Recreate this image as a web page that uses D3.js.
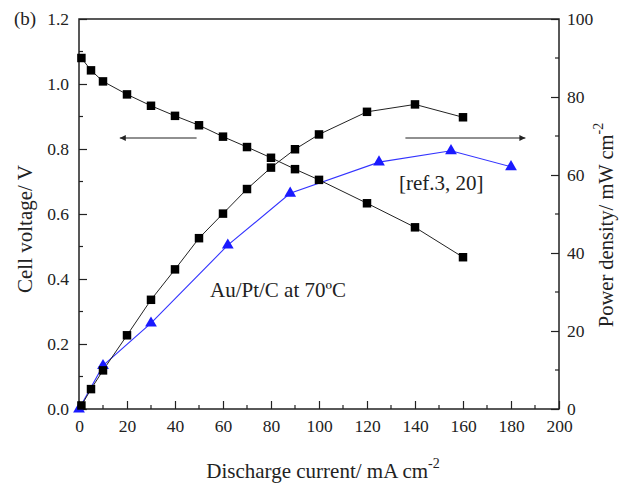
<!DOCTYPE html>
<html>
<head>
<meta charset="utf-8">
<script src="https://cdn.jsdelivr.net/npm/d3@7"></script>
<style>
  body { margin: 0; background: #fff; }
</style>
</head>
<body>
<svg id="chart" width="620" height="485"></svg>
<script>
// current density (mA cm-2)
var currentSq = [1, 5, 10, 20, 30, 40, 50, 60, 70, 80, 90, 100, 120, 140, 160]
var voltage = [1.08, 1.042, 1.008, 0.968, 0.933, 0.902, 0.873, 0.838, 0.806, 0.773, 0.738, 0.705, 0.633, 0.559, 0.467]
var currentPw = [1, 5, 10, 20, 30, 40, 50, 60, 70, 80, 90, 100, 120, 140, 160]
var power = [0.9, 5.1, 9.9, 18.9, 28, 35.8, 43.8, 50.1, 56.4, 61.9, 66.6, 70.4, 76.2, 78.1, 74.8]
// reference curve [ref.3, 20]
var currentRef = [0, 10, 30, 62, 88, 125, 155, 180]
var powerRef = [0, 11.1, 22, 42, 55.3, 63.3, 66.2, 62.1]

var xTicks = [0, 20, 40, 60, 80, 100, 120, 140, 160, 180, 200]
var vTicks = [0.0, 0.2, 0.4, 0.6, 0.8, 1.0, 1.2]
var pTicks = [0, 20, 40, 60, 80, 100]

var serif = "Liberation Serif, Tinos, DejaVu Serif, Noto Serif, serif"

var dimensions = {
    width: 620,
    height: 485,
    margin: { top: 19, bottom: 76, left: 79, right: 61 }
}
var innerW = dimensions.width - dimensions.margin.left - dimensions.margin.right
var innerH = dimensions.height - dimensions.margin.top - dimensions.margin.bottom

var svg = d3.select("#chart").attr("font-family", serif)

var xScale = d3.scaleLinear().domain([0, 200]).range([dimensions.margin.left, dimensions.margin.left + innerW])
var yLeft = d3.scaleLinear().domain([0, 1.2]).range([dimensions.margin.top + innerH, dimensions.margin.top])
var yRight = d3.scaleLinear().domain([0, 100]).range([dimensions.margin.top + innerH, dimensions.margin.top])

var x0 = dimensions.margin.left, x1 = x0 + innerW
var y0 = dimensions.margin.top + innerH, y1 = dimensions.margin.top

// minor ticks
var minor = svg.append("g").attr("stroke", "#222").attr("stroke-width", 1.2)
d3.range(10, 200, 20).forEach(v => {
    minor.append("line").attr("x1", xScale(v)).attr("x2", xScale(v)).attr("y1", y0).attr("y2", y0 - 4)
})
d3.range(0.1, 1.2, 0.2).forEach(v => {
    minor.append("line").attr("x1", x0).attr("x2", x0 + 4).attr("y1", yLeft(v)).attr("y2", yLeft(v))
})
d3.range(10, 100, 20).forEach(v => {
    minor.append("line").attr("x1", x1).attr("x2", x1 - 4).attr("y1", yRight(v)).attr("y2", yRight(v))
})

var xAxis = svg.append("g")
    .attr("transform", `translate(0,${y0})`)
    .call(d3.axisBottom(xScale).tickValues(xTicks).tickSize(-8).tickPadding(11).tickFormat(d3.format("d")))
var leftAxis = svg.append("g")
    .attr("transform", `translate(${x0},0)`)
    .call(d3.axisLeft(yLeft).tickValues(vTicks).tickSize(-8).tickPadding(10).tickFormat(d3.format(".1f")))
var rightAxis = svg.append("g")
    .attr("transform", `translate(${x1},0)`)
    .call(d3.axisRight(yRight).tickValues(pTicks).tickSize(-8).tickPadding(8).tickFormat(d3.format("d")))

svg.selectAll(".domain").remove()
xAxis.attr("font-family", serif)
leftAxis.attr("font-family", serif)
rightAxis.attr("font-family", serif)
svg.selectAll(".tick line").attr("stroke", "#222").attr("stroke-width", 1.2)
svg.selectAll(".tick text").attr("font-size", 17.5).attr("fill", "#222")

// frame
svg.append("rect")
    .attr("x", x0).attr("y", y1).attr("width", innerW).attr("height", innerH)
    .attr("fill", "none").attr("stroke", "#222").attr("stroke-width", 1.5)

// series
var lineV = d3.line().x(d => xScale(d[0])).y(d => yLeft(d[1]))
var lineP = d3.line().x(d => xScale(d[0])).y(d => yRight(d[1]))

var vData = currentSq.map((c, i) => [c, voltage[i]])
var pData = currentPw.map((c, i) => [c, power[i]])
var rData = currentRef.map((c, i) => [c, powerRef[i]])

svg.append("path").datum(rData).attr("d", lineP).attr("fill", "none").attr("stroke", "#3333ff").attr("stroke-width", 1.1)
svg.append("path").datum(vData).attr("d", lineV).attr("fill", "none").attr("stroke", "#222").attr("stroke-width", 1)
svg.append("path").datum(pData).attr("d", lineP).attr("fill", "none").attr("stroke", "#222").attr("stroke-width", 1)

var sq = d3.symbol().type(d3.symbolSquare).size(72)
var tri = d3.symbol().type(d3.symbolTriangle).size(60)

svg.append("g").selectAll("path").data(rData).enter().append("path")
    .attr("transform", d => `translate(${xScale(d[0])},${yRight(d[1])})`)
    .attr("d", tri).attr("fill", "#1a1aff")
svg.append("g").selectAll("path").data(vData).enter().append("path")
    .attr("transform", d => `translate(${xScale(d[0])},${yLeft(d[1])})`)
    .attr("d", sq).attr("fill", "#000")
svg.append("g").selectAll("path").data(pData).enter().append("path")
    .attr("transform", d => `translate(${xScale(d[0])},${yRight(d[1])})`)
    .attr("d", sq).attr("fill", "#000")

// arrows
svg.append("defs").append("marker")
    .attr("id", "arrow")
    .attr("viewBox", "0 0 10 10")
    .attr("refX", 10).attr("refY", 5)
    .attr("markerWidth", 10).attr("markerHeight", 6)
    .attr("markerUnits", "userSpaceOnUse")
    .attr("orient", "auto")
    .append("path").attr("d", "M0,0 L10,5 L0,10 z").attr("fill", "#222")

svg.append("line").attr("x1", xScale(49)).attr("x2", xScale(17)).attr("y1", 138).attr("y2", 138)
    .attr("stroke", "#222").attr("stroke-width", 1.2).attr("marker-end", "url(#arrow)")
svg.append("line").attr("x1", xScale(136)).attr("x2", xScale(186)).attr("y1", 138).attr("y2", 138)
    .attr("stroke", "#222").attr("stroke-width", 1.2).attr("marker-end", "url(#arrow)")

// annotations
svg.append("text").attr("x", 14).attr("y", 25).attr("font-size", 19).attr("fill", "#222").text("(b)")
svg.append("text").attr("x", 210).attr("y", 297).attr("font-size", 21).attr("fill", "#222").text("Au/Pt/C at 70ºC")
svg.append("text").attr("x", 399).attr("y", 190).attr("font-size", 21).attr("fill", "#222").text("[ref.3, 20]")

// axis titles
var xTitle = svg.append("text")
    .attr("x", (x0 + x1) / 2 + 4).attr("y", 478)
    .attr("text-anchor", "middle")
    .attr("font-size", 21).attr("fill", "#222")
xTitle.append("tspan").text("Discharge current/ mA cm")
xTitle.append("tspan").attr("dy", -10).attr("font-size", 14).text("-2")

svg.append("text")
    .attr("transform", "translate(32,229) rotate(-90)")
    .attr("text-anchor", "middle")
    .attr("font-size", 21).attr("fill", "#222")
    .text("Cell voltage/ V")

var yTitle = svg.append("text")
    .attr("transform", "translate(613,225) rotate(-90)")
    .attr("text-anchor", "middle")
    .attr("font-size", 20.5).attr("fill", "#222")
yTitle.append("tspan").text("Power density/ mW cm")
yTitle.append("tspan").attr("dy", -10).attr("font-size", 14).text("-2")
</script>
</body>
</html>
